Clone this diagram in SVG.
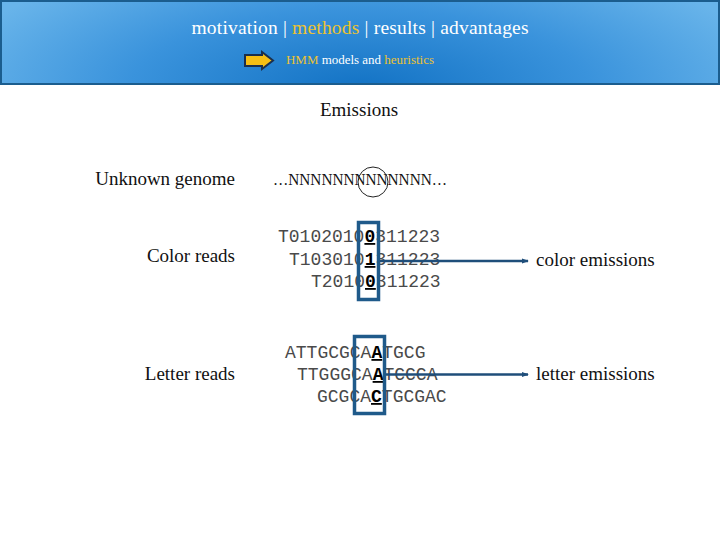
<svg xmlns="http://www.w3.org/2000/svg" width="720" height="540" viewBox="0 0 720 540">
<defs>
<radialGradient id="hdr" cx="360" cy="90" r="420" gradientUnits="userSpaceOnUse" gradientTransform="translate(360 90) scale(1 0.35) translate(-360 -90)">
<stop offset="0" stop-color="#1272c4"/>
<stop offset="0.55" stop-color="#3a93dc"/>
<stop offset="1" stop-color="#68b4ea"/>
</radialGradient>
<marker id="ah" viewBox="0 0 8 8" refX="7" refY="4" markerWidth="7" markerHeight="7" markerUnits="userSpaceOnUse" orient="auto">
<path d="M0,1 L8,4 L0,7 Z" fill="#1f4e7a"/>
</marker>
<style>
.serif{font-family:"Liberation Serif","DejaVu Serif",serif;fill:#111;}
.lbl{font-size:19px;}
.mono{font-family:"Liberation Mono","Courier New",monospace;font-size:18px;fill:#4a4a4a;}
.b{font-weight:bold;fill:#000;text-decoration:underline;}
.box{fill:none;stroke:#1f5a8a;stroke-width:3.5;}
.conn{stroke:#1f4e7a;stroke-width:2.5;fill:none;}
.yl{fill:#ecc232;}
</style>
</defs>
<rect x="0" y="0" width="720" height="540" fill="#ffffff"/>
<g id="header">
<rect x="1" y="1" width="718" height="83" fill="url(#hdr)" stroke="#1b5d8e" stroke-width="2"/>
<text x="360" y="34" text-anchor="middle" class="serif" style="font-size:19.5px;fill:#ffffff" textLength="337">motivation | <tspan class="yl">methods</tspan> | results | advantages</text>
<path d="M245,55 L262,55 L262,52 L273,60.5 L262,69 L262,66 L245,66 Z" fill="#f6bf14" stroke="#1b2f4c" stroke-width="2" stroke-linejoin="miter"/>
<text x="286" y="64" class="serif" style="font-size:12.5px;fill:#ffffff" textLength="148" lengthAdjust="spacingAndGlyphs"><tspan class="yl">HMM</tspan> models and <tspan class="yl">heuristics</tspan></text>
</g>
<g id="emissions-title">
<text x="359" y="116" text-anchor="middle" class="serif lbl">Emissions</text>
</g>
<g id="unknown-genome">
<text x="235" y="185" text-anchor="end" class="serif lbl">Unknown genome</text>
<text x="273" y="185" class="serif" style="font-size:16px" textLength="174" lengthAdjust="spacingAndGlyphs">…NNNNNNNNNNNNN…</text>
<circle cx="373" cy="182" r="15" fill="none" stroke="#222" stroke-width="1"/>
</g>
<g id="color-reads">
<text x="235" y="262" text-anchor="end" class="serif lbl">Color reads</text>
<text x="278" y="242" class="mono">T0102010<tspan class="b">0</tspan>311223</text>
<text x="289" y="265" class="mono">T103010<tspan class="b">1</tspan>311223</text>
<text x="311" y="287" class="mono">T2010<tspan class="b">0</tspan>311223</text>
<rect x="358.5" y="222.5" width="20" height="77" class="box"/>
</g>
<g id="letter-reads">
<text x="235" y="380" text-anchor="end" class="serif lbl">Letter reads</text>
<text x="285" y="358" class="mono">ATTGCGCA<tspan class="b">A</tspan>TGCG</text>
<text x="297" y="380" class="mono">TTGGGCA<tspan class="b">A</tspan>TCCCA</text>
<text x="317" y="402" class="mono">GCGCA<tspan class="b">C</tspan>TGCGAC</text>
<rect x="354.5" y="336.5" width="30" height="77" class="box"/>
</g>
<g id="color-emissions">
<text x="536" y="266" class="serif lbl">color emissions</text>
</g>
<g id="letter-emissions">
<text x="536" y="380" class="serif lbl">letter emissions</text>
</g>
<g id="connectors">
<line x1="380" y1="261" x2="528" y2="261" class="conn" marker-end="url(#ah)"/>
<line x1="386" y1="374.5" x2="528" y2="374.5" class="conn" marker-end="url(#ah)"/>
</g>
</svg>
